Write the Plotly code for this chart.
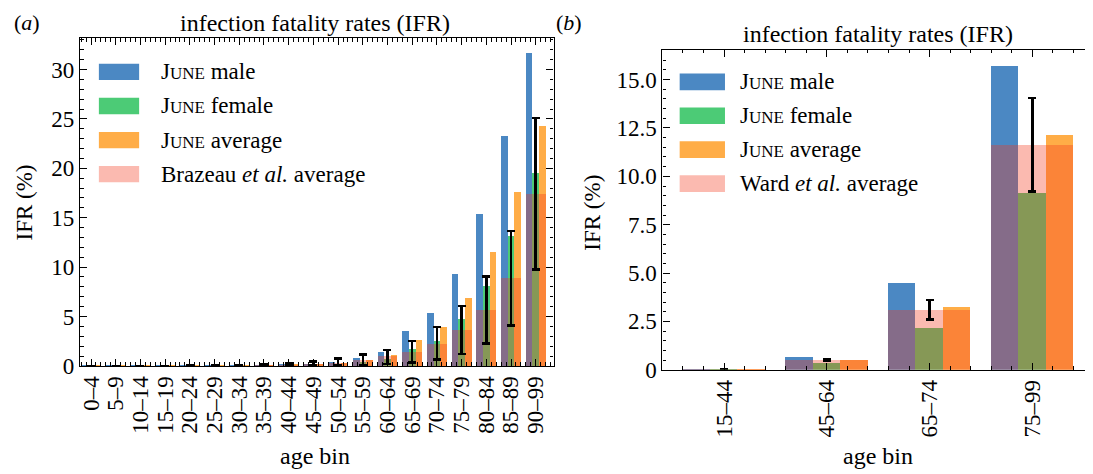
import numpy as np
import plotly.graph_objects as go

# ---- panel (a): 5-year age bins ----
bins_a = ["0–4", "5–9", "10–14", "15–19", "20–24", "25–29", "30–34", "35–39",
          "40–44", "45–49", "50–54", "55–59", "60–64", "65–69", "70–74",
          "75–79", "80–84", "85–89", "90–99"]
male_a = [0.002, 0.001, 0.002, 0.005, 0.01, 0.015, 0.03, 0.06, 0.12, 0.2,
          0.37, 0.83, 1.43, 3.5, 5.38, 9.33, 15.4, 23.3, 31.66]
female_a = [0.001, 0.001, 0.001, 0.003, 0.005, 0.01, 0.02, 0.04, 0.06, 0.12,
            0.2, 0.4, 0.72, 1.68, 2.5, 4.7, 8.1, 13.1, 19.54]
avg_a = [0.002, 0.001, 0.002, 0.004, 0.008, 0.013, 0.025, 0.05, 0.1, 0.2,
         0.33, 0.6, 1.1, 2.6, 3.93, 6.9, 11.55, 17.6, 24.27]
ref_a = [0.001, 0.001, 0.002, 0.004, 0.008, 0.014, 0.026, 0.048, 0.09, 0.17,
         0.3, 0.55, 0.95, 1.4, 2.25, 3.6, 5.6, 8.9, 17.39]
ref_lo_a = [0.0, 0.0, 0.0, 0.0, 0.001, 0.003, 0.006, 0.01, 0.02, 0.03,
            0.06, 0.1, 0.18, 0.33, 0.67, 1.18, 2.25, 4.1, 9.74]
ref_hi_a = [0.003, 0.003, 0.005, 0.01, 0.02, 0.04, 0.1, 0.18, 0.3, 0.47,
            0.73, 1.13, 1.6, 2.53, 3.93, 6.05, 9.07, 13.67, 25.1]

# ---- panel (b): coarse age bins ----
bins_b = ["15–44", "45–64", "65–74", "75–99"]
male_b = [0.03, 0.69, 4.48, 15.73]
female_b = [0.02, 0.35, 2.19, 9.14]
avg_b = [0.025, 0.52, 3.28, 12.16]
ref_b = [0.03, 0.52, 3.1, 11.64]
ref_lo_b = [0.01, 0.48, 2.59, 9.22]
ref_hi_b = [0.05, 0.56, 3.62, 14.05]

BLUE = "#4b88c3"
GREEN = "#4ccb76"
ORANGE = "#ffad47"
PINK = "rgba(243,58,29,0.35)"
FONT = "Liberation Serif, Times New Roman, serif"
W, H = 1093, 474

june = "J<span style='font-size:17px'>UNE</span>"


def add_panel(fig, xa, ya, bins, male, female, avg, ref, lo, hi):
    pos = np.arange(len(bins))
    bw = 0.8 / 3
    for vals, off, col in [(male, -bw, BLUE), (female, 0, GREEN), (avg, bw, ORANGE)]:
        fig.add_trace(go.Bar(x=pos + off, y=vals, width=bw, marker_color=col,
                             marker_line_width=0, showlegend=False,
                             xaxis=xa, yaxis=ya))
    ref = np.array(ref)
    fig.add_trace(go.Bar(
        x=pos, y=ref, width=0.8, marker_color=PINK, marker_line_width=0,
        showlegend=False, xaxis=xa, yaxis=ya,
        error_y=dict(type="data", symmetric=False,
                     array=np.array(hi) - ref, arrayminus=ref - np.array(lo),
                     color="black", thickness=2.5, width=4),
    ))


fig = go.Figure()
add_panel(fig, "x", "y", bins_a, male_a, female_a, avg_a, ref_a, ref_lo_a, ref_hi_a)
add_panel(fig, "x2", "y2", bins_b, male_b, female_b, avg_b, ref_b, ref_lo_b, ref_hi_b)

axis_common = dict(
    showline=True, linecolor="black", linewidth=1.2, mirror="allticks",
    ticks="inside", ticklen=7, tickwidth=1, tickcolor="black",
    showgrid=False, zeroline=False,
    tickfont=dict(family=FONT, size=23, color="black"),
)
minor_common = dict(ticks="inside", ticklen=3.5, tickcolor="black", tickmode="linear", tick0=0)

# panel domains in pixels
a_l, a_r, a_t, a_b = 71, 545, 31, 368
b_l, b_r, b_t, b_b = 654, 1086, 43, 372

fig.update_layout(
    width=W, height=H, autosize=False,
    margin=dict(l=0, r=0, t=0, b=0),
    paper_bgcolor="white", plot_bgcolor="white",
    barmode="overlay", bargap=0,
    font=dict(family=FONT, color="black"),
    xaxis=dict(axis_common, domain=[a_l / W, a_r / W], anchor="y",
               range=[-0.45, 18.72], tickmode="array",
               tickvals=list(range(len(bins_a))), ticktext=bins_a, tickangle=-90,
               minor=dict(minor_common, dtick=0.2)),
    yaxis=dict(axis_common, domain=[1 - a_b / H, 1 - a_t / H], anchor="x",
               range=[0, 33.18], tickmode="linear", tick0=0, dtick=5,
               minor=dict(minor_common, dtick=1)),
    xaxis2=dict(axis_common, domain=[b_l / W, b_r / W], anchor="y2",
                range=[-0.6, 3.6], tickmode="array",
                tickvals=list(range(len(bins_b))), ticktext=bins_b, tickangle=-90,
                minor=dict(minor_common, dtick=0.2)),
    yaxis2=dict(axis_common, domain=[1 - b_b / H, 1 - b_t / H], anchor="x2",
                range=[0, 16.54], tickmode="array",
                tickvals=[0, 2.5, 5, 7.5, 10, 12.5, 15],
                ticktext=["0", "2.5", "5.0", "7.5", "10.0", "12.5", "15.0"],
                minor=dict(minor_common, dtick=0.5)),
)


# custom legends (wide swatches like the original)
def add_legend(fig, xa, ya, labels, x0, x1, xt, y_top, dy, h):
    for i, (lab, col) in enumerate(labels):
        yc = y_top - i * dy
        fig.add_shape(type="rect", xref=f"{xa} domain", yref=f"{ya} domain",
                      x0=x0, x1=x1, y0=yc - h / 2, y1=yc + h / 2,
                      fillcolor=col, line_width=0)
        fig.add_annotation(xref=f"{xa} domain", yref=f"{ya} domain", x=xt, y=yc,
                           text=lab, showarrow=False, xanchor="left",
                           yanchor="middle", font=dict(family=FONT, size=23))


add_legend(fig, "x", "y",
           [(june + " male", BLUE), (june + " female", GREEN),
            (june + " average", ORANGE), ("Brazeau <i>et al.</i> average", PINK)],
           0.04, 0.125, 0.168, 0.897, 0.104, 0.05)
add_legend(fig, "x2", "y2",
           [(june + " male", BLUE), (june + " female", GREEN),
            (june + " average", ORANGE), ("Ward <i>et al.</i> average", PINK)],
           0.04, 0.145, 0.175, 0.90, 0.106, 0.052)

# titles and labels
texts = [
    ("(<i>a</i>)", 18, 15, 0, 22),
    ("(<i>b</i>)", 561, 15, 0, 22),
    ("infection fatality rates (IFR)", 306, 15, 0, 24),
    ("infection fatality rates (IFR)", 870, 27, 0, 24),
    ("age bin", 306, 461, 0, 24),
    ("age bin", 870, 461, 0, 24),
    ("IFR (%)", 16, 200, -90, 23),
    ("IFR (%)", 584, 210, -90, 23),
]
for txt, px, py, ang, size in texts:
    fig.add_annotation(xref="paper", yref="paper", x=px / W, y=1 - py / H,
                       text=txt, showarrow=False, textangle=ang,
                       xanchor="center", yanchor="middle",
                       font=dict(family=FONT, size=size, color="black"))

fig.write_html("out.html")
